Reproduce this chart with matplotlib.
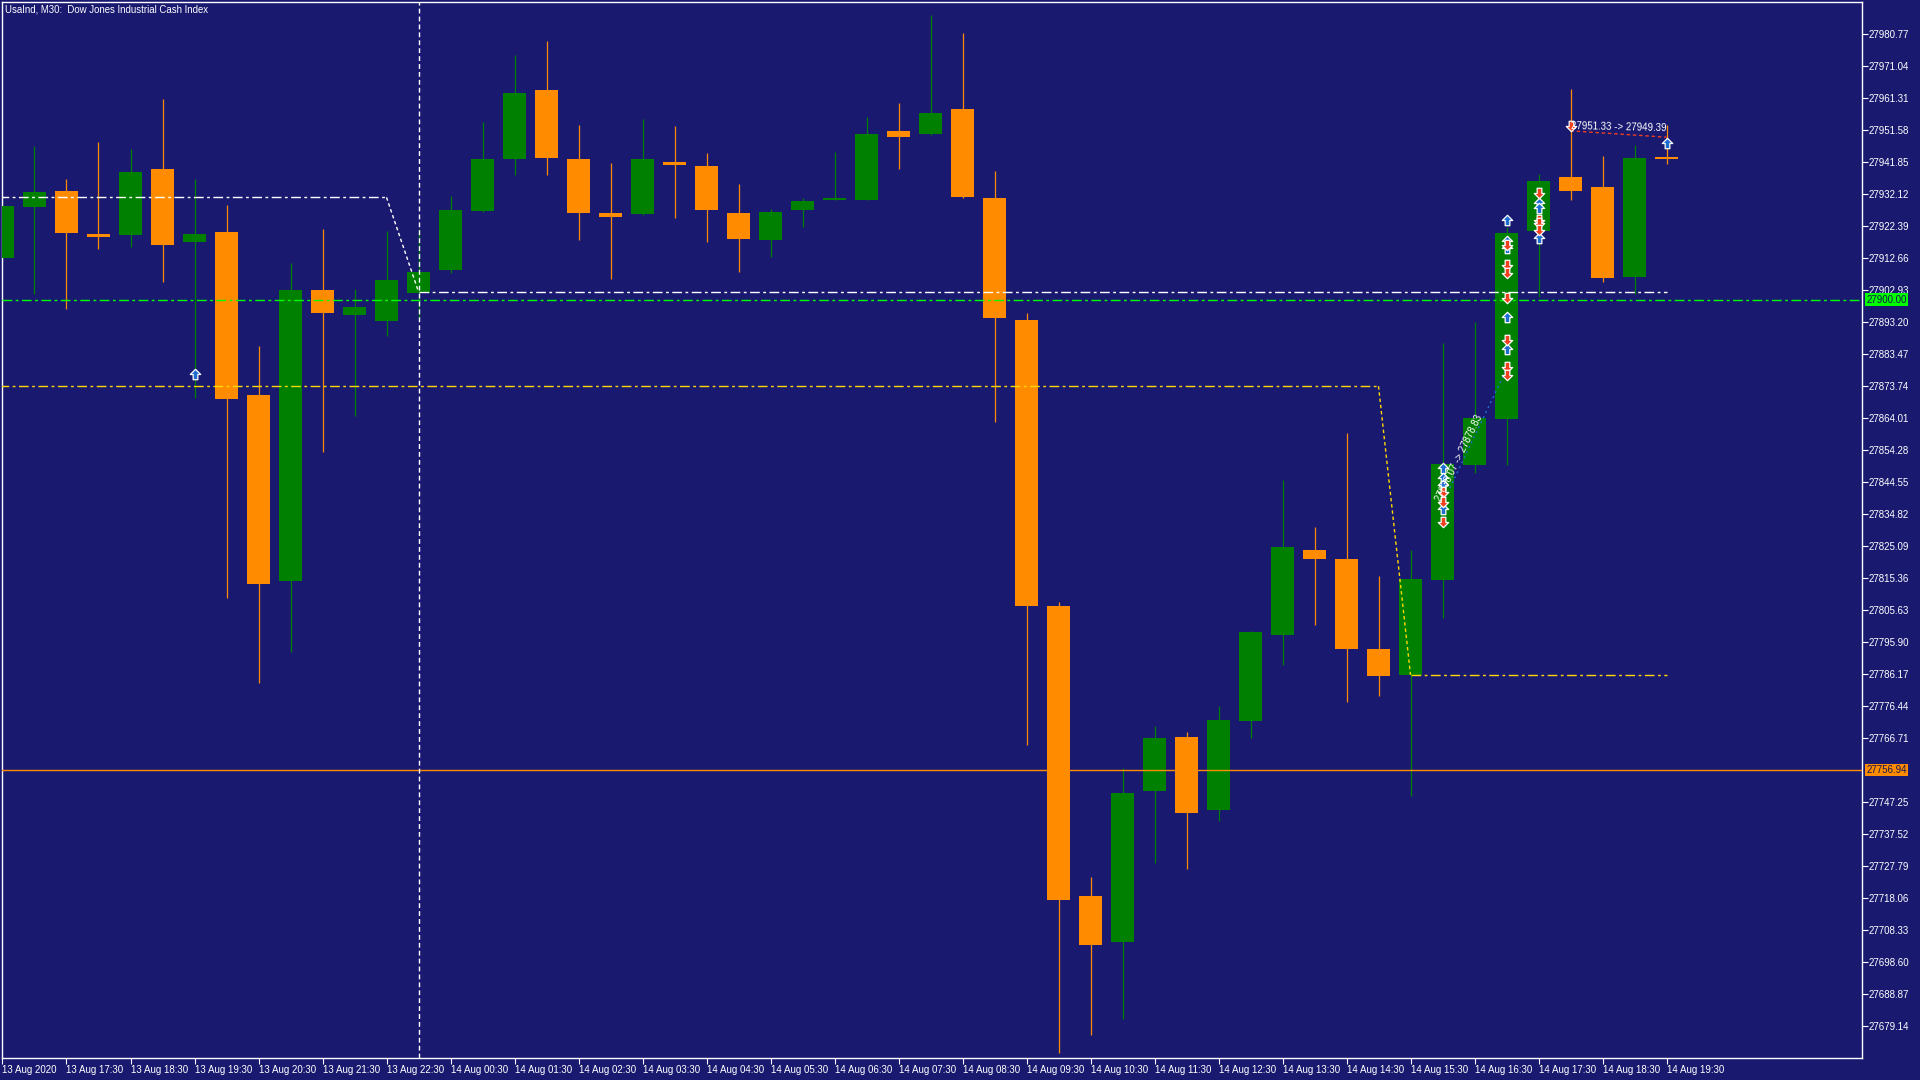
import numpy as np
import matplotlib.pyplot as plt
from matplotlib.path import Path

plt.rcParams['font.family'] = ['Liberation Sans', 'DejaVu Sans']
plt.rcParams['lines.scale_dashes'] = False

BG = '#191970'
BULL = '#008000'
BEAR = '#FF8C00'
BUY_BLUE = '#1E6ED2'
SELL_RED = '#F0401E'
GOLD = '#FFD700'
LIME = '#00FF00'

# --- UsaInd M30, 13 Aug 16:30 -> 14 Aug 19:30 ---
opens = [27912.6, 27928.2, 27933.0, 27920.0, 27919.6, 27939.7, 27917.4, 27920.7, 27870.9, 27814.3,
         27902.9, 27895.4, 27893.6, 27902.1, 27909.0, 27927.1, 27942.7, 27963.6, 27942.7, 27926.4,
         27926.0, 27942.0, 27940.5, 27926.4, 27918.1, 27927.4, 27930.4, 27930.4, 27951.3, 27950.5,
         27958.0, 27930.8, 27893.9, 27806.8, 27718.6, 27704.8, 27750.6, 27767.0, 27744.7, 27771.8,
         27797.9, 27823.9, 27821.0, 27793.8, 27785.9, 27814.6, 27849.7, 27863.8, 27920.9, 27937.3,
         27934.1, 27907.0, 27942.9]
highs = [27931.5, 27946.7, 27936.7, 27947.9, 27945.8, 27961.0, 27936.7, 27928.8, 27885.8, 27911.1,
         27921.5, 27903.3, 27920.9, 27921.4, 27931.5, 27953.9, 27974.4, 27978.5, 27953.1, 27941.6,
         27955.0, 27952.8, 27944.6, 27935.3, 27927.5, 27930.8, 27945.0, 27955.4, 27959.8, 27986.6,
         27981.0, 27939.0, 27895.8, 27808.0, 27724.5, 27757.7, 27770.4, 27768.5, 27776.3, 27799.3,
         27845.2, 27831.0, 27859.3, 27816.1, 27823.9, 27886.9, 27893.2, 27922.1, 27938.2, 27963.9,
         27943.8, 27947.0, 27953.1]
lows = [27911.0, 27901.7, 27897.3, 27915.5, 27915.9, 27905.5, 27870.1, 27809.4, 27783.4, 27793.0,
        27853.7, 27864.5, 27889.0, 27894.4, 27908.2, 27926.7, 27937.9, 27937.9, 27918.1, 27906.2,
        27925.6, 27924.8, 27917.4, 27908.5, 27912.9, 27922.2, 27930.3, 27930.3, 27939.7, 27950.2,
        27931.0, 27862.7, 27764.7, 27671.0, 27676.5, 27681.4, 27728.6, 27726.8, 27741.6, 27766.6,
        27788.9, 27801.2, 27777.8, 27779.6, 27749.1, 27803.1, 27847.3, 27849.7, 27900.9, 27930.4,
        27905.5, 27901.7, 27941.2]
closes = [27928.6, 27932.7, 27920.4, 27918.9, 27938.8, 27916.7, 27920.0, 27869.7, 27813.5, 27902.9,
          27895.8, 27897.7, 27905.9, 27908.4, 27927.3, 27942.7, 27962.8, 27943.1, 27926.4, 27925.2,
          27942.7, 27940.9, 27927.4, 27918.5, 27926.7, 27930.1, 27930.8, 27950.5, 27949.4, 27956.9,
          27931.2, 27894.3, 27806.8, 27717.5, 27703.7, 27749.9, 27766.6, 27743.9, 27772.2, 27799.0,
          27824.7, 27821.0, 27793.8, 27785.6, 27815.0, 27850.0, 27864.1, 27920.3, 27936.1, 27933.1,
          27906.6, 27943.2, 27942.9]

time_labels = ['13 Aug 2020', '13 Aug 17:30', '13 Aug 18:30', '13 Aug 19:30', '13 Aug 20:30',
               '13 Aug 21:30', '13 Aug 22:30', '14 Aug 00:30', '14 Aug 01:30', '14 Aug 02:30',
               '14 Aug 03:30', '14 Aug 04:30', '14 Aug 05:30', '14 Aug 06:30', '14 Aug 07:30',
               '14 Aug 08:30', '14 Aug 09:30', '14 Aug 10:30', '14 Aug 11:30', '14 Aug 12:30',
               '14 Aug 13:30', '14 Aug 14:30', '14 Aug 15:30', '14 Aug 16:30', '14 Aug 17:30',
               '14 Aug 18:30', '14 Aug 19:30']

price_ticks = [27980.77, 27971.04, 27961.31, 27951.58, 27941.85, 27932.12, 27922.39, 27912.66,
               27902.93, 27893.20, 27883.47, 27873.74, 27864.01, 27854.28, 27844.55, 27834.82,
               27825.09, 27815.36, 27805.63, 27795.90, 27786.17, 27776.44, 27766.71, 27747.25,
               27737.52, 27727.79, 27718.06, 27708.33, 27698.60, 27688.87, 27679.14]

# trailing stop lines (bar, price)
white_stop_bars = [12, 13]
white_stop_prices = [27931.1, 27902.4]
gold_stop_bars = [43, 44]
gold_stop_prices = [27873.7, 27785.9]
stop_end_bar = 52
crosshair_bar = 13

green_level = 27900.00
orange_level = 27756.94

# trade history arrows
buy_bars = [6, 45, 45, 45, 45, 47, 47, 47, 47, 47, 48, 48, 48, 52]
buy_prices = [27877.5, 27848.8, 27845.8, 27843.6, 27836.3, 27924.2, 27917.8, 27915.7, 27894.7,
              27885.0, 27929.4, 27927.9, 27918.7, 27947.5]
sell_bars = [45, 45, 45, 47, 47, 47, 47, 47, 47, 47, 48, 48, 48, 48, 49]
sell_prices = [27841.5, 27838.5, 27832.4, 27916.6, 27910.5, 27908.1, 27900.5, 27887.7, 27879.5,
               27877.1, 27932.4, 27924.2, 27923.3, 27921.2, 27952.8]

buy_trade_bars = [45, 47]
buy_trade_prices = [27838.07, 27878.83]
sell_trade_bars = [49, 52]
sell_trade_prices = [27951.33, 27949.39]

DASHDOT = (0, (7, 2.5, 2, 2.5))

fig = plt.figure(figsize=(19.2, 10.8), dpi=100, facecolor=BG)
ax = fig.add_axes([2 / 1920, 22 / 1080, 1860 / 1920, 1056 / 1080], facecolor=BG)

o, h, l, c = map(np.array, (opens, highs, lows, closes))
idx = np.arange(len(o))
cols = np.where(c > o, BULL, BEAR)

ax.vlines(idx, l, h, colors=cols, lw=0.9, zorder=2)
ax.bar(idx, np.maximum(np.abs(c - o), 0.35), bottom=np.minimum(o, c), width=0.72,
       color=cols, linewidth=0, zorder=3)

# niveaux horizontaux
ax.axhline(green_level, color=LIME, lw=1, ls=DASHDOT, zorder=4)
ax.axhline(orange_level, color=BEAR, lw=1, zorder=4)

# lignes de stop suiveur
ax.hlines(white_stop_prices[0], -1, white_stop_bars[0], colors='white', lw=1, linestyles=DASHDOT, zorder=4)
ax.plot(white_stop_bars, white_stop_prices, color='white', lw=1, ls=(0, (2.5, 2)), zorder=4)
ax.hlines(white_stop_prices[1], white_stop_bars[1], stop_end_bar, colors='white', lw=1,
          linestyles=DASHDOT, zorder=4)
ax.hlines(gold_stop_prices[0], -1, gold_stop_bars[0], colors=GOLD, lw=1, linestyles=DASHDOT, zorder=4)
ax.plot(gold_stop_bars, gold_stop_prices, color=GOLD, lw=1, ls=(0, (2.5, 2)), zorder=4)
ax.hlines(gold_stop_prices[1], gold_stop_bars[1], stop_end_bar, colors=GOLD, lw=1,
          linestyles=DASHDOT, zorder=4)

ax.axvline(crosshair_bar, color='white', lw=1, ls=(0, (3.5, 2.2)), zorder=4)

# trades
ax.plot(buy_trade_bars, buy_trade_prices, color=BUY_BLUE, lw=1, ls=(0, (1.5, 2.5)), zorder=5)
ax.plot(sell_trade_bars, sell_trade_prices, color=SELL_RED, lw=1, ls=(0, (2.5, 2)), zorder=5)

up_arrow = Path([(0, 1), (1, 0), (0.45, 0), (0.45, -1), (-0.45, -1), (-0.45, 0), (-1, 0), (0, 1)],
                [Path.MOVETO] + [Path.LINETO] * 6 + [Path.CLOSEPOLY])
down_arrow = Path(up_arrow.vertices * [1, -1], up_arrow.codes)

ax.plot(buy_bars, buy_prices, ls='none', marker=up_arrow, ms=7.5, mfc=BUY_BLUE, mec='white',
        mew=0.9, zorder=6)
ax.plot(sell_bars, sell_prices, ls='none', marker=down_arrow, ms=7.5, mfc=SELL_RED, mec='white',
        mew=0.9, zorder=6)

ax.text(buy_trade_bars[0], buy_trade_prices[0],
        f'{buy_trade_prices[0]:.2f} -> {buy_trade_prices[1]:.2f}',
        color='white', fontsize=7, ha='left', va='bottom', rotation=64,
        rotation_mode='anchor', zorder=7)
ax.text(sell_trade_bars[0], sell_trade_prices[0],
        f'{sell_trade_prices[0]:.2f} -> {sell_trade_prices[1]:.2f}',
        color='white', fontsize=7, ha='left', va='bottom', rotation=-1.3,
        rotation_mode='anchor', zorder=7)

# axes
ax.set_xlim(-0.0156, 58.109)
ax.set_ylim(27669.41, 27990.50)
for sp in ax.spines.values():
    sp.set_color('white')
    sp.set_linewidth(1)

ax.set_xticks(idx[::2])
ax.set_xticklabels(time_labels, ha='left')
ax.tick_params(axis='x', colors='white', length=4, width=0.8, pad=1, labelsize=7)

ax.yaxis.tick_right()
ax.set_yticks(price_ticks)
ax.set_yticklabels([f'{p:.2f}' for p in price_ticks])
ax.tick_params(axis='y', colors='white', length=4, width=0.8, pad=1, labelsize=7)

for level, fc in [(green_level, LIME), (orange_level, BEAR)]:
    ax.annotate(f'{level:.2f}', xy=(1, level), xycoords=('axes fraction', 'data'),
                xytext=(3.2, 0), textcoords='offset points', ha='left', va='center',
                fontsize=7, color='#141450', annotation_clip=False,
                bbox=dict(boxstyle='square,pad=0.12', fc=fc, ec='none'))

fig.text(5 / 1920, 1 - 4 / 1080, 'UsaInd, M30:  Dow Jones Industrial Cash Index',
         color='white', fontsize=6.9, ha='left', va='top')

fig.savefig('out.png', dpi=100, facecolor=BG)
